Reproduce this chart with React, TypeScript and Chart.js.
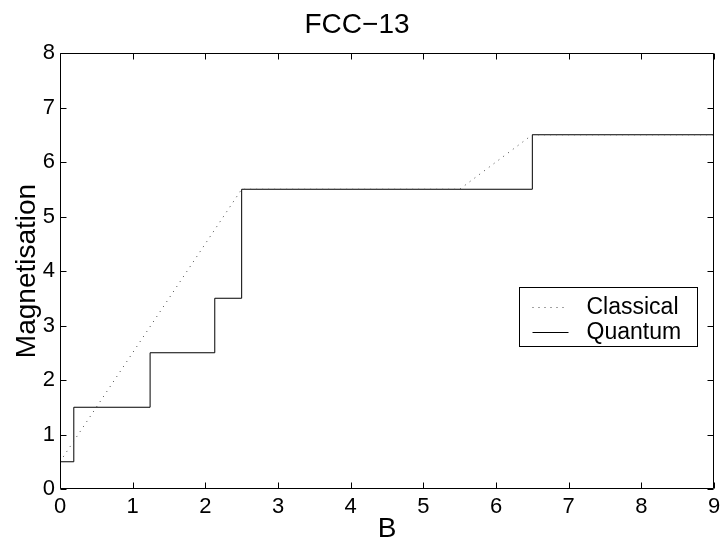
import React, { useEffect, useRef } from "react";
import { Chart, registerables } from "chart.js";

Chart.register(...registerables);

// Classical magnetisation curve (piecewise linear)
const classicalB = [0, 2.5, 5.5, 6.5, 9];
const classicalM = [0.5, 5.5, 5.5, 6.5, 6.5];

// Quantum magnetisation plateaus: each value holds until the next field value
const quantumB = [0, 0.19, 1.24, 2.13, 2.5, 6.5, 9];
const quantumM = [0.5, 1.5, 2.5, 3.5, 5.5, 6.5, 6.5];

const xTicks = [0, 1, 2, 3, 4, 5, 6, 7, 8, 9];
const yTicks = [0, 1, 2, 3, 4, 5, 6, 7, 8];

const seriesNames = ["Classical", "Quantum"];

const FONT = "'Liberation Sans', Arial, Helvetica, sans-serif";

// Box frame with inward ticks on all four sides, plus an in-plot legend
const matlabFrame = {
  id: "matlabFrame",
  afterDatasetsDraw(chart: any) {
    const { ctx, chartArea: a, scales } = chart;
    const xs = scales.x;
    const ys = scales.y;
    const L = Math.round(a.left) + 0.5;
    const R = Math.round(a.right) - 0.5;
    const T = Math.round(a.top) + 0.5;
    const B = Math.round(a.bottom) - 0.5;
    const tl = 6;
    ctx.save();
    ctx.strokeStyle = "#000";
    ctx.lineWidth = 1;
    ctx.beginPath();
    ctx.rect(L, T, R - L, B - T);
    for (const v of xTicks) {
      const px = Math.round(xs.getPixelForValue(v)) + 0.5;
      ctx.moveTo(px, B);
      ctx.lineTo(px, B - tl);
      ctx.moveTo(px, T);
      ctx.lineTo(px, T + tl);
    }
    for (const v of yTicks) {
      const py = Math.round(ys.getPixelForValue(v)) + 0.5;
      ctx.moveTo(L, py);
      ctx.lineTo(L + tl, py);
      ctx.moveTo(R, py);
      ctx.lineTo(R - tl, py);
    }
    ctx.stroke();

    // legend
    const bx = Math.round(a.right) - 195 + 0.5;
    const by = Math.round(ys.getPixelForValue(3.7)) + 0.5;
    const bw = 178;
    const bh = 59;
    ctx.fillStyle = "#fff";
    ctx.fillRect(bx, by, bw, bh);
    ctx.strokeStyle = "#000";
    ctx.strokeRect(bx, by, bw, bh);
    const rows = [by + 19, by + 44];
    chart.data.datasets.forEach((ds: any, i: number) => {
      const y = Math.round(rows[i]) + 0.5;
      ctx.beginPath();
      ctx.strokeStyle = ds.borderColor;
      ctx.lineWidth = 1;
      ctx.setLineDash(ds.borderDash || []);
      ctx.moveTo(bx + 13, y);
      ctx.lineTo(bx + 49, y);
      ctx.stroke();
      ctx.setLineDash([]);
      ctx.fillStyle = "#000";
      ctx.font = `23px ${FONT}`;
      ctx.textAlign = "left";
      ctx.textBaseline = "middle";
      ctx.fillText(ds.label, bx + 67, y);
    });
    ctx.restore();
  },
};

export default function App() {
  const ref = useRef<HTMLCanvasElement | null>(null);

  useEffect(() => {
    if (!ref.current) return;
    const chart = new Chart(ref.current, {
      type: "line",
      data: {
        datasets: [
          {
            label: seriesNames[0],
            data: classicalB.map((b, i) => ({ x: b, y: classicalM[i] })),
            borderColor: "#444",
            borderWidth: 1,
            borderDash: [1, 5],
            pointRadius: 0,
            fill: false,
            tension: 0,
          },
          {
            label: seriesNames[1],
            data: quantumB.map((b, i) => ({ x: b, y: quantumM[i] })),
            borderColor: "#000",
            borderWidth: 1,
            stepped: "before",
            pointRadius: 0,
            fill: false,
          },
        ],
      },
      options: {
        animation: false,
        responsive: false,
        devicePixelRatio: 1,
        layout: { padding: { top: 0, right: 6, bottom: 0, left: 0 } },
        plugins: {
          legend: { display: false },
          tooltip: { enabled: false },
          title: {
            display: true,
            text: "FCC\u221213",
            color: "#000",
            font: { family: FONT, size: 28, weight: "normal", lineHeight: 1.2 },
            padding: { top: 8, bottom: 11.4 },
          },
        },
        scales: {
          x: {
            type: "linear",
            min: 0,
            max: 9,
            afterFit(scale: any) {
              scale.height = 57;
              scale.paddingLeft = 0;
              scale.paddingRight = 0;
            },
            afterBuildTicks(scale: any) {
              scale.ticks = xTicks.map((v) => ({ value: v }));
            },
            grid: { display: false, drawTicks: false, tickLength: 0 },
            border: { display: false },
            ticks: {
              color: "#000",
              padding: 5,
              maxRotation: 0,
              autoSkip: false,
              font: { family: FONT, size: 22 },
            },
            title: {
              display: true,
              text: "B",
              color: "#000",
              font: { family: FONT, size: 28 },
              padding: { top: 0, bottom: 0 },
            },
          },
          y: {
            type: "linear",
            min: 0,
            max: 8,
            afterFit(scale: any) {
              scale.width = 60;
              scale.paddingTop = 0;
              scale.paddingBottom = 0;
            },
            afterBuildTicks(scale: any) {
              scale.ticks = yTicks.map((v) => ({ value: v }));
            },
            grid: { display: false, drawTicks: false, tickLength: 0 },
            border: { display: false },
            ticks: {
              color: "#000",
              padding: 5,
              autoSkip: false,
              font: { family: FONT, size: 22 },
            },
            title: {
              display: true,
              text: "Magnetisation",
              color: "#000",
              font: { family: FONT, size: 28 },
              padding: { top: 10, bottom: 0 },
            },
          },
        },
      },
      plugins: [matlabFrame],
    });
    return () => chart.destroy();
  }, []);

  return (
    <div style={{ position: "fixed", left: 0, top: 0, width: 720, height: 546, background: "#fff" }}>
      <canvas ref={ref} width={720} height={546} style={{ display: "block" }} />
    </div>
  );
}
